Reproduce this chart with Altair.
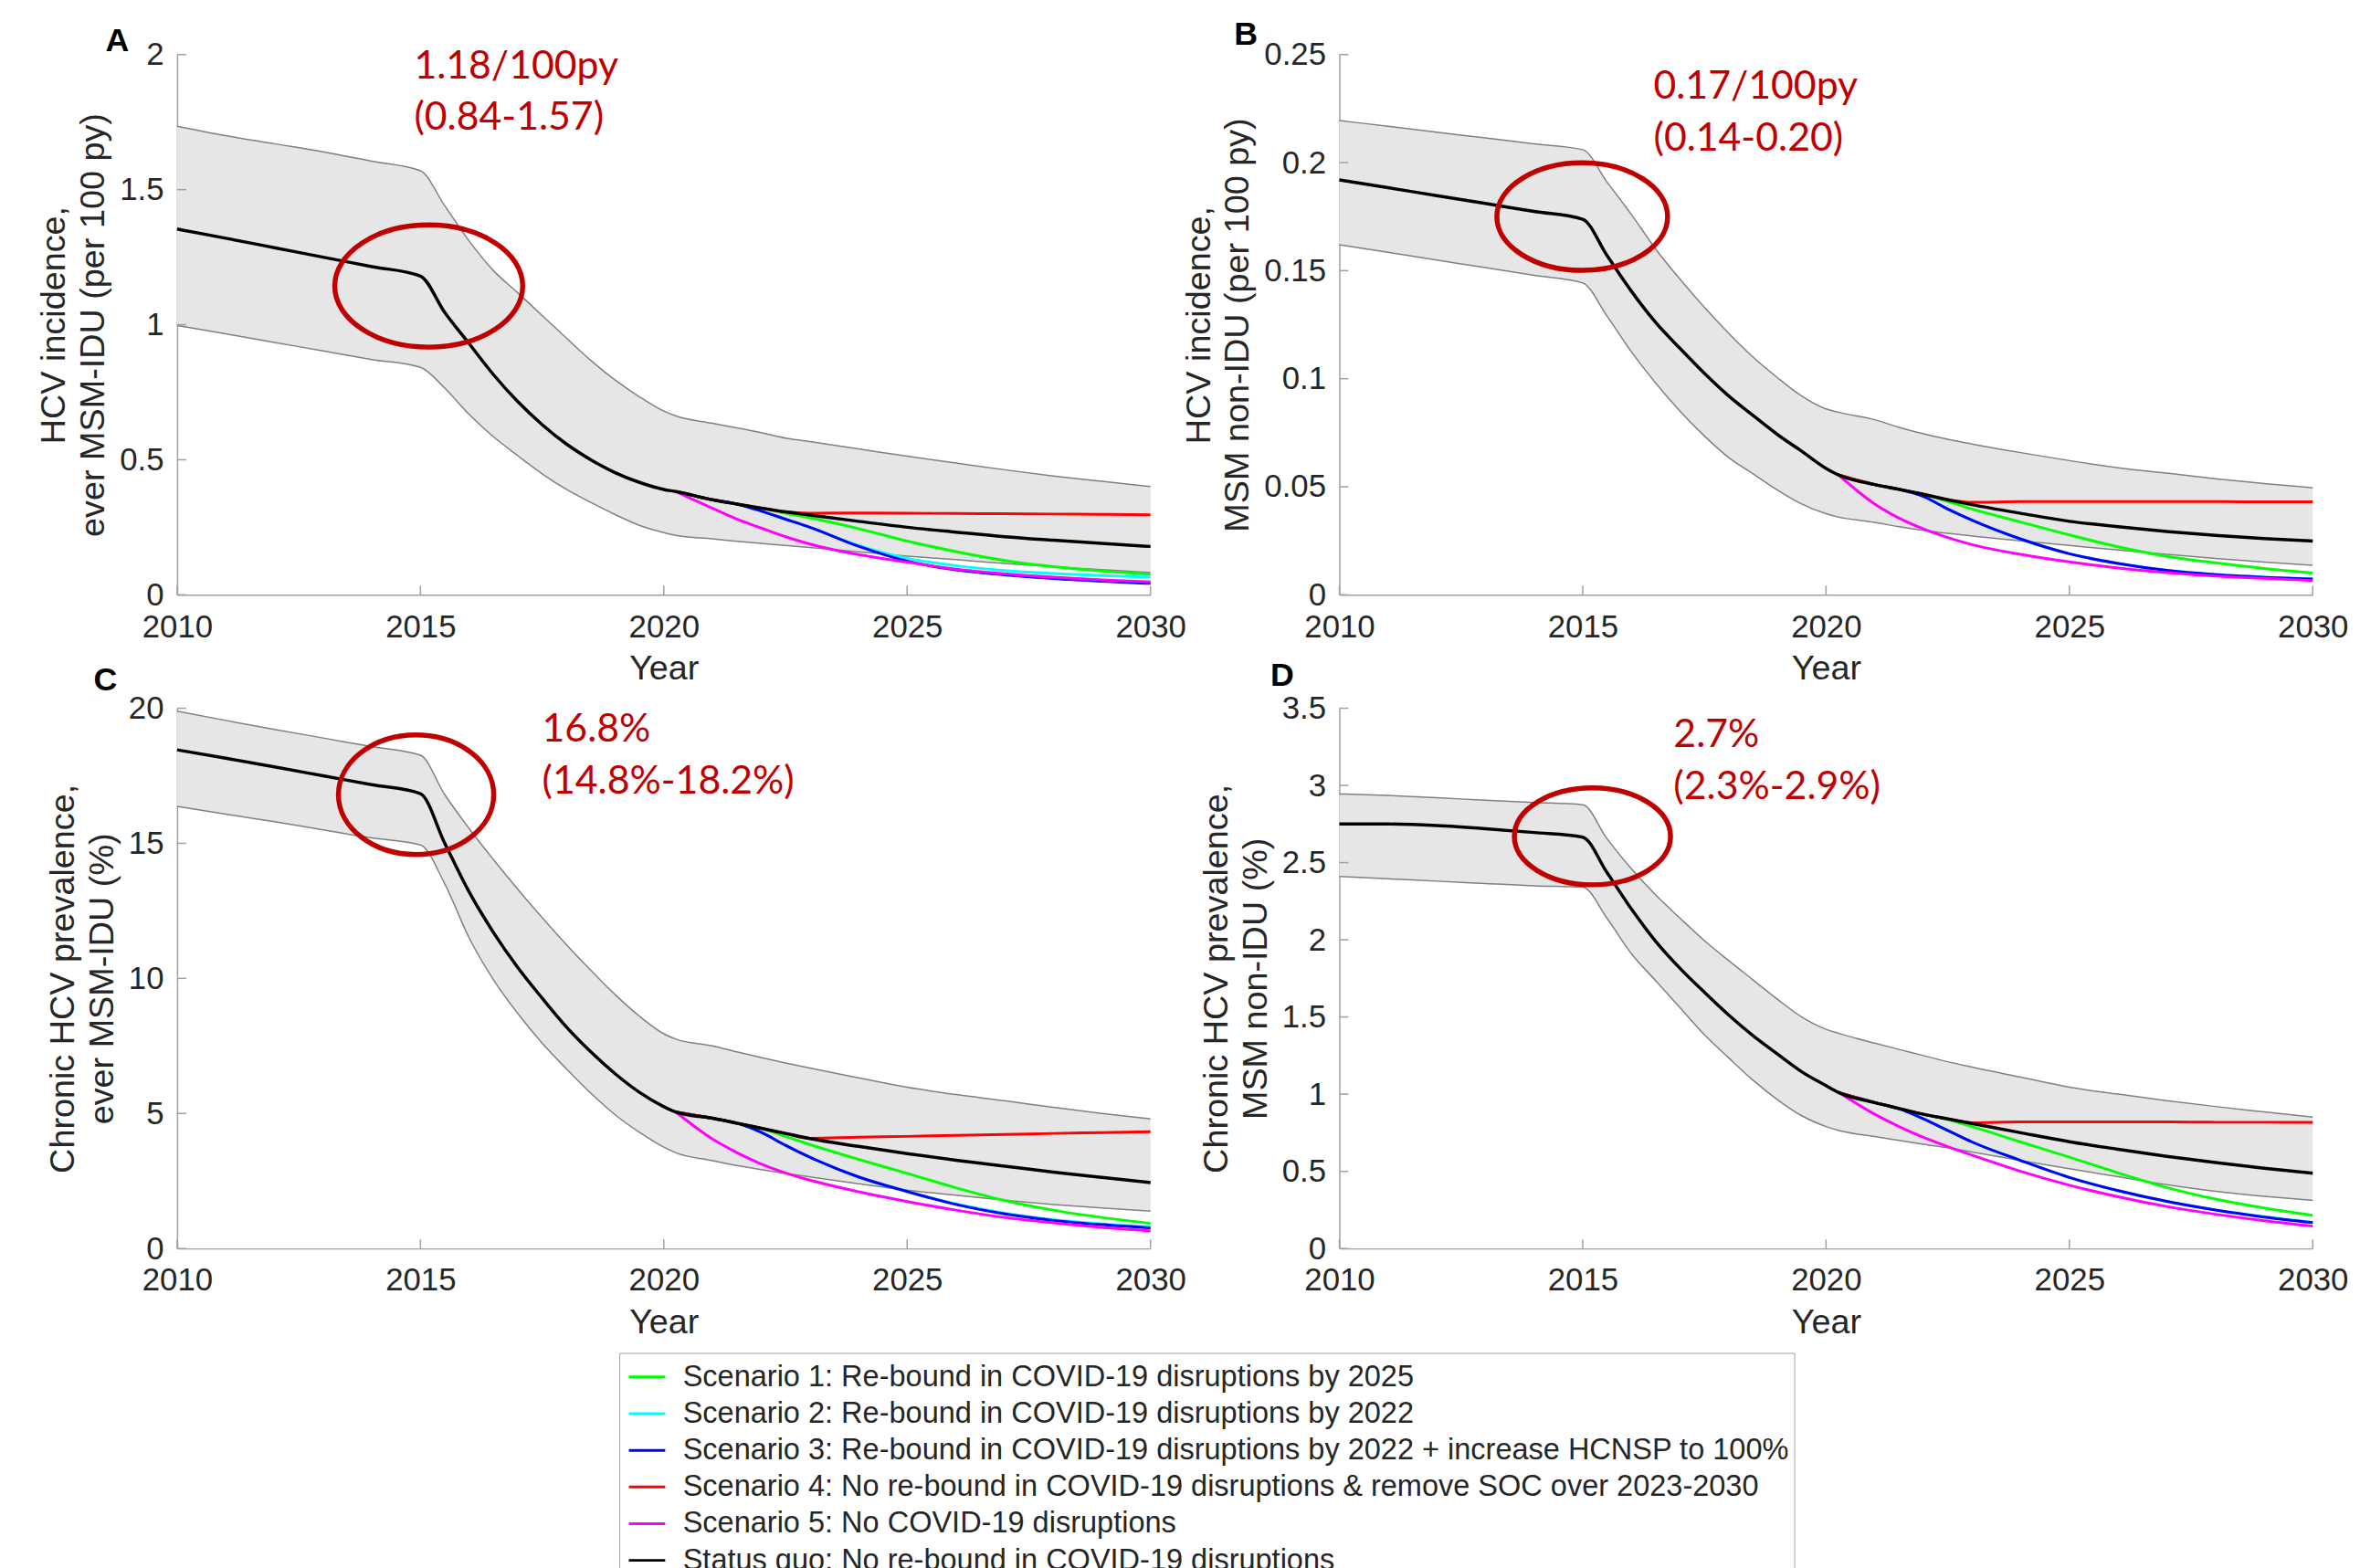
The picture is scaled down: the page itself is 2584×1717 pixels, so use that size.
import altair as alt
import pandas as pd

# ---------------- data ----------------
YEARS_PRE = [2010, 2011, 2012, 2013, 2014, 2015, 2015.5, 2016, 2016.5, 2017, 2017.5,
             2018, 2018.5, 2019, 2019.5, 2020]
YEARS_POST = [2020.25, 2021, 2021.5, 2022, 2022.5, 2023, 2024, 2025, 2026, 2027, 2028, 2029, 2030]
X_TICKS = [2010, 2015, 2020, 2025, 2030]

SERIES = [
    "Scenario 1: Re-bound in COVID-19 disruptions by 2025",
    "Scenario 2: Re-bound in COVID-19 disruptions by 2022",
    "Scenario 3: Re-bound in COVID-19 disruptions by 2022 + increase HCNSP to 100%",
    "Scenario 4: No re-bound in COVID-19 disruptions & remove SOC over 2023-2030",
    "Scenario 5: No COVID-19 disruptions",
    "Status quo: No re-bound in COVID-19 disruptions",
]
COLORS = ["#00ff00", "#00ffff", "#0000ff", "#ff0000", "#ff00ff", "#000000"]

# Panel A: HCV incidence, ever MSM-IDU
A_BLACK_PRE = [1.354, 1.32, 1.285, 1.25, 1.215, 1.18, 1.045, 0.93, 0.815, 0.715, 0.63, 0.558, 0.50, 0.452, 0.416, 0.39]
A_BLACK_POST = [0.382, 0.352, 0.336, 0.321, 0.307, 0.295, 0.272, 0.25, 0.232, 0.215, 0.202, 0.19, 0.179]
A_UP_PRE = [1.735, 1.70, 1.67, 1.64, 1.605, 1.57, 1.44, 1.31, 1.20, 1.118, 1.034, 0.95, 0.868, 0.795, 0.733, 0.68]
A_UP_POST = [0.662, 0.635, 0.618, 0.60, 0.58, 0.567, 0.54, 0.513, 0.488, 0.463, 0.44, 0.42, 0.401]
A_LO_PRE = [0.997, 0.966, 0.934, 0.903, 0.871, 0.842, 0.765, 0.668, 0.585, 0.515, 0.448, 0.39, 0.342, 0.297, 0.257, 0.23]
A_LO_POST = [0.22, 0.207, 0.198, 0.19, 0.183, 0.175, 0.159, 0.143, 0.13, 0.116, 0.104, 0.093, 0.082]
A_S1 = [0.382, 0.352, 0.336, 0.32, 0.302, 0.285, 0.245, 0.199, 0.16, 0.127, 0.104, 0.088, 0.076]
A_S2 = [0.382, 0.352, 0.336, 0.31, 0.28, 0.25, 0.182, 0.135, 0.108, 0.09, 0.079, 0.071, 0.065]
A_S3 = [0.382, 0.352, 0.336, 0.31, 0.28, 0.25, 0.18, 0.125, 0.092, 0.074, 0.06, 0.05, 0.042]
A_S4 = [0.382, 0.352, 0.336, 0.321, 0.307, 0.302, 0.303, 0.302, 0.301, 0.30, 0.299, 0.298, 0.296]
A_S5 = [0.382, 0.32, 0.28, 0.247, 0.215, 0.188, 0.149, 0.121, 0.095, 0.078, 0.065, 0.055, 0.048]
A_YTICKS = [0, 0.5, 1, 1.5, 2]

# Panel B: HCV incidence, MSM non-IDU
B_BLACK_PRE = [0.192, 0.1884, 0.1847, 0.1811, 0.1774, 0.1738, 0.157, 0.1405, 0.126, 0.114, 0.1025, 0.092, 0.083, 0.0742, 0.0664, 0.0585]
B_BLACK_POST = [0.0555, 0.051, 0.0488, 0.0465, 0.044, 0.0417, 0.0377, 0.034, 0.0315, 0.0293, 0.0275, 0.026, 0.0249]
B_UP_PRE = [0.2195, 0.2168, 0.2141, 0.2114, 0.2087, 0.206, 0.191, 0.176, 0.16, 0.146, 0.133, 0.121, 0.11, 0.1005, 0.092, 0.086]
B_UP_POST = [0.0845, 0.081, 0.0775, 0.0745, 0.072, 0.0698, 0.0658, 0.0621, 0.0588, 0.0563, 0.0537, 0.0515, 0.0495]
B_LO_PRE = [0.162, 0.1585, 0.1549, 0.1514, 0.1478, 0.1443, 0.129, 0.1125, 0.098, 0.085, 0.0735, 0.0635, 0.056, 0.0485, 0.042, 0.0375]
B_LO_POST = [0.036, 0.0335, 0.0315, 0.0298, 0.0284, 0.0272, 0.025, 0.0228, 0.0207, 0.0187, 0.0168, 0.0151, 0.0136]
B_S1 = [0.0555, 0.051, 0.0488, 0.0465, 0.0432, 0.0397, 0.0337, 0.0277, 0.0222, 0.0178, 0.0148, 0.0122, 0.0101]
B_S2 = [0.0555, 0.051, 0.0488, 0.0455, 0.0397, 0.0345, 0.0258, 0.019, 0.0145, 0.0113, 0.0094, 0.0082, 0.0074]
B_S3 = [0.0555, 0.051, 0.0488, 0.0455, 0.0397, 0.0345, 0.0258, 0.019, 0.0145, 0.0113, 0.0093, 0.0081, 0.0073]
B_S4 = [0.0555, 0.051, 0.0488, 0.0465, 0.044, 0.0428, 0.0431, 0.0431, 0.0431, 0.0431, 0.0431, 0.043, 0.043]
B_S5 = [0.0555, 0.042, 0.0355, 0.0305, 0.0265, 0.0232, 0.0187, 0.0152, 0.0124, 0.0103, 0.0087, 0.0076, 0.0066]
B_YTICKS = [0, 0.05, 0.1, 0.15, 0.2, 0.25]

# Panel C: chronic HCV prevalence, ever MSM-IDU
C_BLACK_PRE = [18.46, 18.15, 17.83, 17.5, 17.17, 16.84, 15.0, 13.2, 11.7, 10.4, 9.27, 8.2, 7.28, 6.47, 5.78, 5.25]
C_BLACK_POST = [5.05, 4.82, 4.64, 4.45, 4.26, 4.07, 3.78, 3.51, 3.27, 3.05, 2.83, 2.63, 2.44]
C_UP_PRE = [19.89, 19.55, 19.22, 18.9, 18.58, 18.26, 16.8, 15.55, 14.4, 13.3, 12.25, 11.25, 10.3, 9.4, 8.6, 7.95]
C_UP_POST = [7.75, 7.5, 7.28, 7.07, 6.87, 6.68, 6.32, 5.97, 5.7, 5.47, 5.23, 5.0, 4.8]
C_LO_PRE = [16.37, 16.08, 15.8, 15.5, 15.2, 14.94, 13.5, 11.5, 9.95, 8.7, 7.6, 6.65, 5.75, 4.95, 4.3, 3.75]
C_LO_POST = [3.54, 3.25, 3.07, 2.92, 2.78, 2.65, 2.4, 2.16, 1.97, 1.79, 1.63, 1.5, 1.38]
C_S1 = [5.05, 4.82, 4.64, 4.45, 4.15, 3.85, 3.3, 2.78, 2.25, 1.78, 1.42, 1.15, 0.93]
C_S2 = [5.05, 4.82, 4.64, 4.3, 3.82, 3.38, 2.65, 2.11, 1.65, 1.31, 1.07, 0.91, 0.80]
C_S3 = [5.05, 4.82, 4.64, 4.3, 3.82, 3.38, 2.65, 2.11, 1.63, 1.28, 1.04, 0.88, 0.76]
C_S4 = [5.05, 4.82, 4.64, 4.45, 4.26, 4.08, 4.12, 4.15, 4.19, 4.22, 4.26, 4.29, 4.32]
C_S5 = [5.05, 4.05, 3.55, 3.13, 2.80, 2.53, 2.10, 1.74, 1.42, 1.15, 0.95, 0.78, 0.65]
C_YTICKS = [0, 5, 10, 15, 20]

# Panel D: chronic HCV prevalence, MSM non-IDU
D_BLACK_PRE = [2.75, 2.75, 2.74, 2.72, 2.695, 2.665, 2.435, 2.2, 1.99, 1.815, 1.66, 1.512, 1.378, 1.26, 1.145, 1.055]
D_BLACK_POST = [1.012, 0.945, 0.907, 0.87, 0.84, 0.81, 0.75, 0.692, 0.643, 0.597, 0.557, 0.52, 0.488]
D_UP_PRE = [2.945, 2.935, 2.92, 2.905, 2.89, 2.875, 2.655, 2.46, 2.29, 2.14, 1.995, 1.865, 1.74, 1.615, 1.5, 1.42]
D_UP_POST = [1.395, 1.33, 1.29, 1.25, 1.21, 1.175, 1.11, 1.045, 1.0, 0.958, 0.92, 0.885, 0.851]
D_LO_PRE = [2.41, 2.395, 2.38, 2.365, 2.35, 2.341, 2.14, 1.91, 1.735, 1.56, 1.385, 1.235, 1.09, 0.965, 0.86, 0.79]
D_LO_POST = [0.765, 0.725, 0.70, 0.675, 0.653, 0.625, 0.57, 0.517, 0.465, 0.413, 0.37, 0.338, 0.312]
D_S1 = [1.012, 0.945, 0.907, 0.87, 0.835, 0.79, 0.69, 0.592, 0.49, 0.395, 0.32, 0.262, 0.214]
D_S2 = [1.012, 0.945, 0.905, 0.84, 0.765, 0.69, 0.57, 0.46, 0.375, 0.305, 0.25, 0.206, 0.17]
D_S3 = [1.012, 0.945, 0.905, 0.84, 0.765, 0.69, 0.57, 0.46, 0.375, 0.305, 0.249, 0.204, 0.168]
D_S4 = [1.012, 0.945, 0.907, 0.87, 0.84, 0.815, 0.82, 0.82, 0.82, 0.82, 0.818, 0.818, 0.817]
D_S5 = [1.012, 0.87, 0.79, 0.72, 0.66, 0.605, 0.50, 0.41, 0.335, 0.272, 0.222, 0.18, 0.145]
D_YTICKS = [0, 0.5, 1, 1.5, 2, 2.5, 3, 3.5]

# Annotation text
A_NOTE = ["1.18/100py", "(0.84-1.57)"]
B_NOTE = ["0.17/100py", "(0.14-0.20)"]
C_NOTE = ["16.8%", "(14.8%-18.2%)"]
D_NOTE = ["2.7%", "(2.3%-2.9%)"]
A_TITLE = ["HCV incidence,", "ever MSM-IDU (per 100 py)"]
B_TITLE = ["HCV incidence,", "MSM non-IDU (per 100 py)"]
C_TITLE = ["Chronic HCV prevalence,", "ever MSM-IDU (%)"]
D_TITLE = ["Chronic HCV prevalence,", "MSM non-IDU (%)"]

# Highlight ring centres (year, value)
A_RING = [2015.17, 1.143]
B_RING = [2014.99, 0.175]
C_RING = [2014.91, 16.8]
D_RING = [2015.2, 2.67]

# ---------------- layout / style ----------------
W, H = 1072, 595
TXT = "#262626"
RED = "#c00000"
FONT = "Liberation Sans"

LEGEND = alt.Legend(
    orient="none", legendX=487, legendY=1430, title=None, direction="vertical",
    symbolType="stroke", symbolSize=1600, symbolStrokeWidth=3, symbolOffset=4,
    labelFont=FONT, labelFontSize=32.7, labelColor=TXT, labelLimit=3000, labelOffset=18,
    strokeColor="#a0a0a0", fillColor="white", padding=5, rowPadding=1.4,
)
COLOR_SCALE = alt.Scale(domain=SERIES, range=COLORS)


def ellipse_path(ratio):
    k = 0.5523
    r = ratio
    f = lambda v: f"{v:.4f}"
    return (f"M1,0 C1,{f(k*r)} {f(k)},{f(r)} 0,{f(r)} "
            f"C{f(-k)},{f(r)} -1,{f(k*r)} -1,0 "
            f"C-1,{f(-k*r)} {f(-k)},{f(-r)} 0,{f(-r)} "
            f"C{f(k)},{f(-r)} 1,{f(-k*r)} 1,0 Z")


def one_row():
    return alt.Data(values=[{"k": 0}])


def panel(black_pre, black_post, up_pre, up_post, lo_pre, lo_post, scen, yticks,
          ytitle, letter, letter_xy, note, note_xy, ring, ring_w, ring_ratio):
    years = YEARS_PRE + YEARS_POST
    band = pd.DataFrame({"year": years, "lo": lo_pre + lo_post, "hi": up_pre + up_post})
    rows = []
    for name, vals in zip(SERIES[:5], scen):
        for yr, v in zip(YEARS_POST, vals):
            rows.append({"year": yr, "value": v, "series": name})
    scen_df = pd.DataFrame(rows)
    black_df = pd.DataFrame({"year": years, "value": black_pre + black_post, "series": SERIES[5]})

    xscale = alt.Scale(domain=[2010, 2030], nice=False, zero=False)
    yscale = alt.Scale(domain=[yticks[0], yticks[-1]], nice=False, zero=False)
    xaxis = alt.Axis(title="Year", values=X_TICKS, format="d")
    yaxis = alt.Axis(title=ytitle, values=yticks, format=".2~f")

    def X(f):
        return alt.X(f"{f}:Q", scale=xscale, axis=xaxis)

    def Y(f):
        return alt.Y(f"{f}:Q", scale=yscale, axis=yaxis)

    base_band = alt.Chart(band)
    area = base_band.mark_area(color="#e6e6e6", opacity=1, interpolate="monotone").encode(
        x=X("year"), y=Y("lo"), y2=alt.Y2("hi:Q"))
    lo_line = base_band.mark_line(color="#808080", strokeWidth=1.5, interpolate="monotone").encode(
        x=X("year"), y=Y("lo"))
    hi_line = base_band.mark_line(color="#808080", strokeWidth=1.5, interpolate="monotone").encode(
        x=X("year"), y=Y("hi"))

    scen_lines = alt.Chart(scen_df).mark_line(strokeWidth=3, interpolate="monotone").encode(
        x=X("year"), y=Y("value"),
        color=alt.Color("series:N", scale=COLOR_SCALE, legend=LEGEND))
    black_line = alt.Chart(black_df).mark_line(strokeWidth=3.5, interpolate="monotone").encode(
        x=X("year"), y=Y("value"),
        color=alt.Color("series:N", scale=COLOR_SCALE, legend=LEGEND))

    xt = alt.Chart(pd.DataFrame({"v": X_TICKS})).mark_rule(color="#a0a0a0", strokeWidth=1.5).encode(
        x=X("v"), y=alt.value(H), y2=alt.value(H - 10))
    yt = alt.Chart(pd.DataFrame({"v": yticks})).mark_rule(color="#a0a0a0", strokeWidth=1.5).encode(
        y=Y("v"), x=alt.value(0), x2=alt.value(10))

    ring_df = pd.DataFrame({"year": [ring[0]], "value": [ring[1]]})
    ring_mark = alt.Chart(ring_df).mark_point(
        shape=ellipse_path(ring_ratio), size=ring_w * ring_w, filled=False,
        color=RED, strokeWidth=5.5, opacity=1).encode(x=X("year"), y=Y("value"))

    note_mark = alt.Chart(one_row()).mark_text(
        align="left", baseline="middle", font="Lato", fontSize=43, color=RED, lineHeight=57
    ).encode(x=alt.value(note_xy[0]), y=alt.value(note_xy[1]), text=alt.value(note))

    letter_mark = alt.Chart(one_row()).mark_text(
        align="center", baseline="middle", font=FONT, fontSize=36, fontWeight="bold", color="#000000"
    ).encode(x=alt.value(letter_xy[0]), y=alt.value(letter_xy[1]), text=alt.value(letter))

    return alt.layer(area, lo_line, hi_line, xt, yt, scen_lines, black_line,
                     ring_mark, note_mark, letter_mark).properties(width=W, height=H)


pA = panel(A_BLACK_PRE, A_BLACK_POST, A_UP_PRE, A_UP_POST, A_LO_PRE, A_LO_POST,
           [A_S1, A_S2, A_S3, A_S4, A_S5], A_YTICKS, A_TITLE, "A", (-66, -15),
           A_NOTE, (261, 13), A_RING, 207, 0.65)
pB = panel(B_BLACK_PRE, B_BLACK_POST, B_UP_PRE, B_UP_POST, B_LO_PRE, B_LO_POST,
           [B_S1, B_S2, B_S3, B_S4, B_S5], B_YTICKS, B_TITLE, "B", (-103, -22),
           B_NOTE, (346, 36), B_RING, 188, 0.63)
pC = panel(C_BLACK_PRE, C_BLACK_POST, C_UP_PRE, C_UP_POST, C_LO_PRE, C_LO_POST,
           [C_S1, C_S2, C_S3, C_S4, C_S5], C_YTICKS, C_TITLE, "C", (-79, -31),
           C_NOTE, (402, 24), C_RING, 171, 0.77)
pD = panel(D_BLACK_PRE, D_BLACK_POST, D_UP_PRE, D_UP_POST, D_LO_PRE, D_LO_POST,
           [D_S1, D_S2, D_S3, D_S4, D_S5], D_YTICKS, D_TITLE, "D", (-63, -36),
           D_NOTE, (368, 30), D_RING, 172, 0.62)

chart = alt.concat(pA, pB, pC, pD, columns=2, spacing={"row": 125, "column": 208},
                   bounds="flush").properties(
    padding={"left": 33, "top": 7, "right": 5, "bottom": 5}
).configure_view(stroke=None).configure_axis(
    grid=False, ticks=False, domainColor="#a0a0a0", domainWidth=1.5,
    labelFont=FONT, labelFontSize=35, labelColor=TXT,
    labelFlush=False, labelOverlap=False,
    titleFont=FONT, titleFontSize=38, titleFontWeight="normal", titleColor=TXT,
).configure_axisX(labelPadding=18, titlePadding=10).configure_axisY(
    labelPadding=15, titlePadding=9, titleLineHeight=43)

chart.save("out.html", embed_options={"renderer": "svg", "actions": False})
